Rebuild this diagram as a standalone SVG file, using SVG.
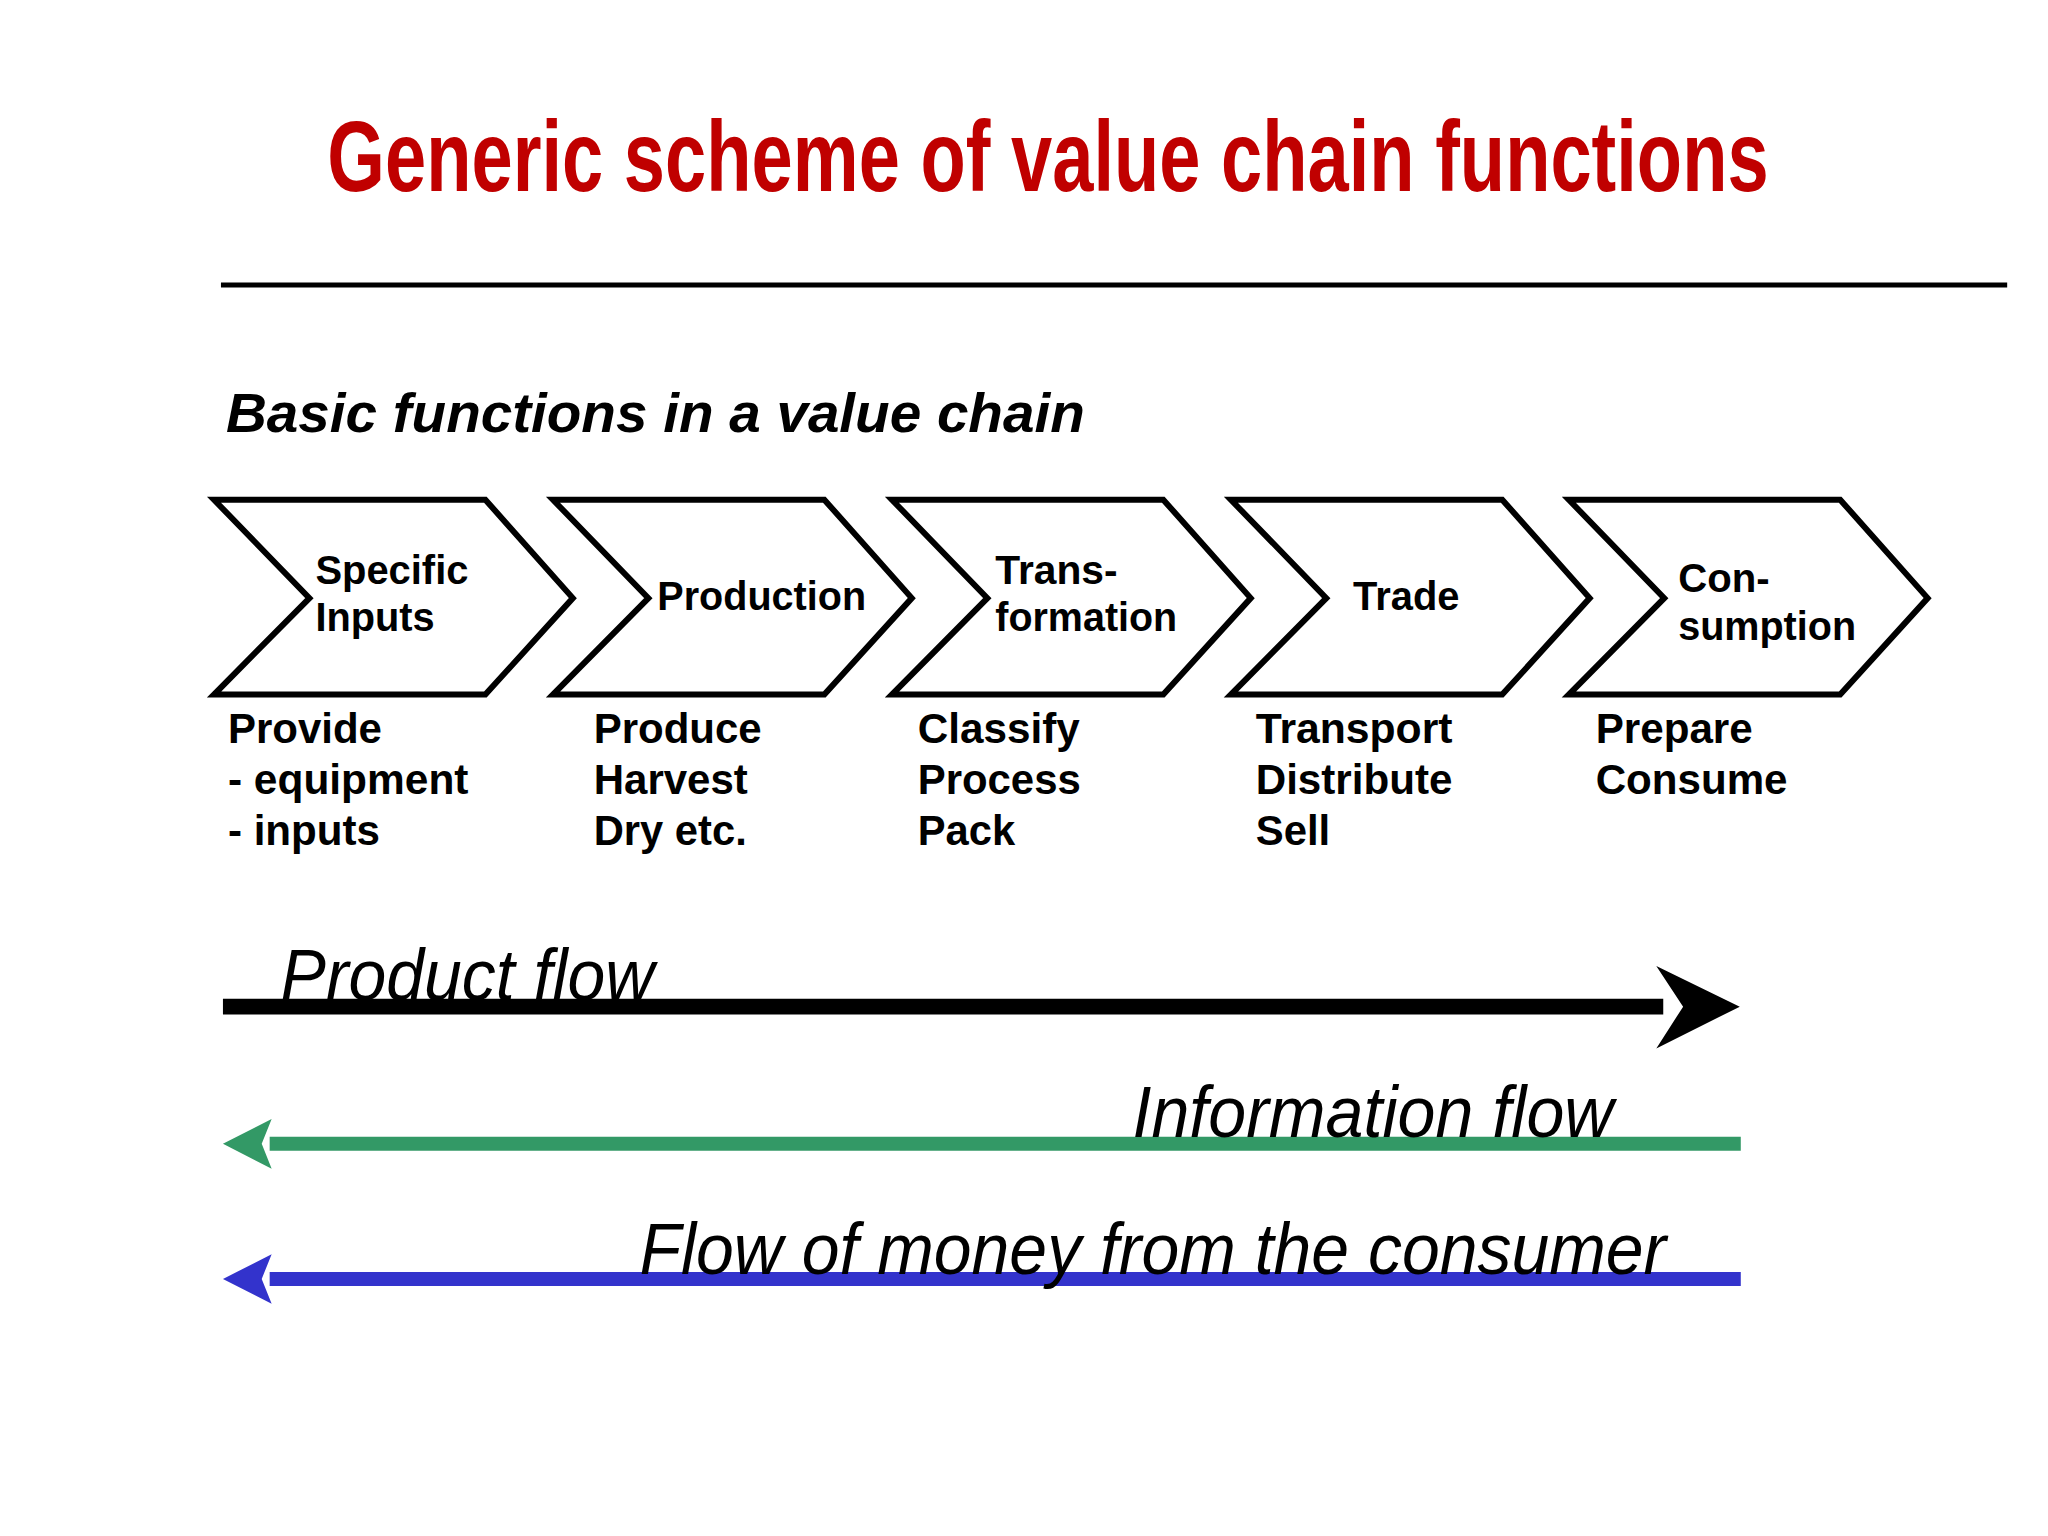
<svg xmlns="http://www.w3.org/2000/svg" width="2048" height="1536" viewBox="0 0 2048 1536">
<style>
text{font-family:"Liberation Sans","Arial",sans-serif;}
.t{font-size:100px;font-weight:bold;fill:#c00000;}
.sub{font-size:56px;font-weight:bold;font-style:italic;fill:#000;}
.lab{font-size:41px;font-weight:bold;fill:#000;}
.desc{font-size:43px;font-weight:bold;fill:#000;}
.flow{font-size:72px;font-style:italic;fill:#000;}
.chev{fill:#fff;stroke:#000;stroke-width:6;stroke-linejoin:miter;}
</style>
<defs>
<path id="chev" d="M0,0 H273 L361,99 L273,196 H0 L96,99 Z" class="chev"/>
</defs>
<rect width="2048" height="1536" fill="#fff"/>
<g transform="translate(214,285) scale(0.994) translate(-214,-285)">
<text class="t" x="328" y="190" textLength="1450" lengthAdjust="spacingAndGlyphs">Generic scheme of value chain functions</text>
<line x1="221" y1="285" x2="2018" y2="285" stroke="#000" stroke-width="5"/>
<text class="sub" x="226" y="433" textLength="864" lengthAdjust="spacingAndGlyphs">Basic functions in a value chain</text>

<g id="n1"><use href="#chev" x="214" y="501"/>
<text class="lab" x="316" y="586" textLength="154" lengthAdjust="spacingAndGlyphs">Specific</text>
<text class="lab" x="316" y="633" textLength="120" lengthAdjust="spacingAndGlyphs">Inputs</text>
<text class="desc"><tspan x="228" y="746" textLength="155" lengthAdjust="spacingAndGlyphs">Provide</tspan><tspan x="228" y="797" textLength="242" lengthAdjust="spacingAndGlyphs">- equipment</tspan><tspan x="228" y="848" textLength="153" lengthAdjust="spacingAndGlyphs">- inputs</tspan></text></g>

<g id="n2"><use href="#chev" x="555" y="501"/>
<text class="lab" x="660" y="612" textLength="210" lengthAdjust="spacingAndGlyphs">Production</text>
<text class="desc"><tspan x="596" y="746" textLength="169" lengthAdjust="spacingAndGlyphs">Produce</tspan><tspan x="596" y="797" textLength="155" lengthAdjust="spacingAndGlyphs">Harvest</tspan><tspan x="596" y="848" textLength="154" lengthAdjust="spacingAndGlyphs">Dry etc.</tspan></text></g>

<g id="n3"><use href="#chev" x="896" y="501"/>
<text class="lab" x="1000" y="586" textLength="123" lengthAdjust="spacingAndGlyphs">Trans-</text>
<text class="lab" x="1000" y="633" textLength="183" lengthAdjust="spacingAndGlyphs">formation</text>
<text class="desc"><tspan x="922" y="746" textLength="163" lengthAdjust="spacingAndGlyphs">Classify</tspan><tspan x="922" y="797" textLength="164" lengthAdjust="spacingAndGlyphs">Process</tspan><tspan x="922" y="848" textLength="98" lengthAdjust="spacingAndGlyphs">Pack</tspan></text></g>

<g id="n4"><use href="#chev" x="1237" y="501"/>
<text class="lab" x="1360" y="612" textLength="107" lengthAdjust="spacingAndGlyphs">Trade</text>
<text class="desc"><tspan x="1262" y="746" textLength="198" lengthAdjust="spacingAndGlyphs">Transport</tspan><tspan x="1262" y="797" textLength="198" lengthAdjust="spacingAndGlyphs">Distribute</tspan><tspan x="1262" y="848" textLength="75" lengthAdjust="spacingAndGlyphs">Sell</tspan></text></g>

<g id="n5"><use href="#chev" x="1577" y="501"/>
<text class="lab" x="1687" y="594" textLength="92" lengthAdjust="spacingAndGlyphs">Con-</text>
<text class="lab" x="1687" y="642" textLength="179" lengthAdjust="spacingAndGlyphs">sumption</text>
<text class="desc"><tspan x="1604" y="746" textLength="158" lengthAdjust="spacingAndGlyphs">Prepare</tspan><tspan x="1604" y="797" textLength="193" lengthAdjust="spacingAndGlyphs">Consume</tspan></text></g>

<g id="connectors">
<line x1="223" y1="1011" x2="1672" y2="1011" stroke="#000" stroke-width="16"/>
<path d="M1749,1011 L1665,970 L1692,1011 L1665,1053 Z" fill="#000"/>
<line x1="270" y1="1149" x2="1750" y2="1149" stroke="#339966" stroke-width="14"/>
<path d="M223,1149 L272,1124 L262,1149 L272,1174 Z" fill="#339966"/>
<line x1="270" y1="1285" x2="1750" y2="1285" stroke="#3333cc" stroke-width="14"/>
<path d="M223,1285 L272,1260 L262,1285 L272,1310 Z" fill="#3333cc"/>
</g>
<text class="flow" x="281" y="1004" textLength="376" lengthAdjust="spacingAndGlyphs">Product flow</text>
<text class="flow" x="1138" y="1142" textLength="484" lengthAdjust="spacingAndGlyphs">Information flow</text>
<text class="flow" x="642" y="1280" textLength="1033" lengthAdjust="spacingAndGlyphs">Flow of money from the consumer</text>
</g>
</svg>
